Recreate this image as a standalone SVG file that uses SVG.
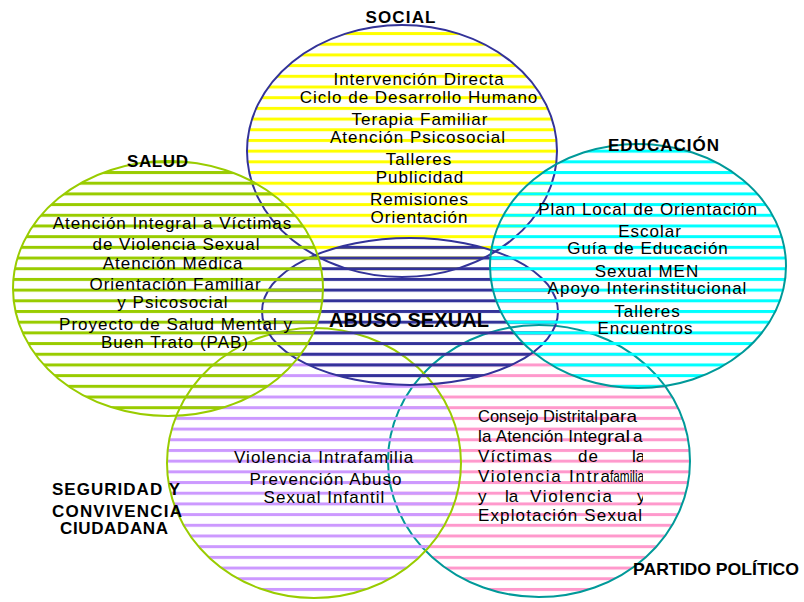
<svg xmlns="http://www.w3.org/2000/svg" width="804" height="602" viewBox="0 0 804 602">
<style>
.t{font-family:"Liberation Sans",Arial,sans-serif;font-size:17px;letter-spacing:1px;fill:#000;text-anchor:middle}
.p{font-family:"Liberation Sans",Arial,sans-serif;font-size:17px;fill:#000}
.b{font-family:"Liberation Sans",Arial,sans-serif;font-size:17px;font-weight:bold;fill:#000;text-anchor:middle}
.o{stroke-width:2}
</style>
<defs>
<pattern id="pY" patternUnits="userSpaceOnUse" width="20" height="10.69"><rect y="0" width="20" height="3" fill="#FFFF00"/></pattern>
<pattern id="pG" patternUnits="userSpaceOnUse" width="20" height="10.69"><rect y="0" width="20" height="3" fill="#99CC00"/></pattern>
<pattern id="pC" patternUnits="userSpaceOnUse" width="20" height="10.69"><rect y="0" width="20" height="3" fill="#00FFFF"/></pattern>
<pattern id="pN" patternUnits="userSpaceOnUse" width="20" height="10.69"><rect y="0" width="20" height="3" fill="#333399"/></pattern>
<pattern id="pL" patternUnits="userSpaceOnUse" width="20" height="10.69"><rect y="0" width="20" height="3" fill="#CC99FF"/></pattern>
<pattern id="pP" patternUnits="userSpaceOnUse" width="20" height="10.69"><rect y="0" width="20" height="3" fill="#FF99CC"/></pattern>
<clipPath id="clipP"><rect x="470" y="400" width="173" height="130"/></clipPath>
<clipPath id="clipS"><rect x="200" y="440" width="214" height="30"/></clipPath>
</defs>
<rect width="804" height="602" fill="#fff"/>

<g id="social">
<ellipse class="o" cx="402" cy="151" rx="155" ry="126" fill="url(#pY)" stroke="#333399"/>
<text class="b" x="400.5" y="23" textLength="70">SOCIAL</text>
<text class="t" x="419" y="85">Intervención Directa</text>
<text class="t" x="419" y="102.7">Ciclo de Desarrollo Humano</text>
<text class="t" x="420" y="125">Terapia Familiar</text>
<text class="t" x="418" y="142.7">Atención Psicosocial</text>
<text class="t" x="419" y="165">Talleres</text>
<text class="t" x="420" y="183">Publicidad</text>
<text class="t" x="419.5" y="205">Remisiones</text>
<text class="t" x="419.5" y="222.7">Orientación</text>
</g>

<g id="partido">
<ellipse class="o" cx="539" cy="461" rx="151" ry="136" fill="url(#pP)" stroke="#009999"/>
<g clip-path="url(#clipP)">
<text class="p" x="478" y="422" textLength="120" lengthAdjust="spacingAndGlyphs">Consejo Distrital</text>
<text class="p" x="599" y="422" textLength="38" lengthAdjust="spacingAndGlyphs">para</text>
<text class="p" x="478" y="441.5" textLength="129" lengthAdjust="spacing">la Atención Integ</text>
<text class="p" x="607" y="441.5" textLength="23" lengthAdjust="spacingAndGlyphs">ral</text>
<text class="p" x="633" y="441.5">a</text>
<text class="p" x="478" y="462" textLength="74" lengthAdjust="spacing">Víctimas</text>
<text class="p" x="578" y="462" textLength="20" lengthAdjust="spacing">de</text>
<text class="p" x="632" y="462">la</text>
<text class="p" x="478" y="481.5" textLength="132" lengthAdjust="spacing">Violencia Intra</text>
<text class="p" x="610" y="481.5" textLength="38" lengthAdjust="spacingAndGlyphs">familiar</text>
<text class="p" x="478" y="502">y</text>
<text class="p" x="505" y="502">la</text>
<text class="p" x="530" y="502" textLength="82" lengthAdjust="spacing">Violencia</text>
<text class="p" x="637" y="502">y</text>
<text class="p" x="478" y="521" textLength="164" lengthAdjust="spacing">Explotación Sexual</text>
</g>
<text class="b" x="716" y="575" textLength="166" lengthAdjust="spacingAndGlyphs">PARTIDO POLÍTICO</text>
</g>

<g id="seguridad">
<ellipse class="o" cx="314" cy="463" rx="147" ry="135" fill="url(#pL)" stroke="#99CC00"/>
<g clip-path="url(#clipS)">
<text class="p" x="234" y="463" textLength="186" lengthAdjust="spacing">Violencia Intrafamiliar</text>
</g>
<text class="t" x="326" y="485">Prevención Abuso</text>
<text class="t" x="324.5" y="503">Sexual Infantil</text>
<text class="b" x="116" y="495" textLength="128">SEGURIDAD Y</text>
<text class="b" x="117" y="516.5" textLength="130">CONVIVENCIA</text>
<text class="b" x="114" y="534" textLength="108">CIUDADANA</text>
</g>

<g id="abuso-sexual">
<ellipse class="o" cx="410" cy="311.5" rx="148" ry="73.5" fill="url(#pN)" stroke="#333399"/>
<text class="b" x="409" y="327" style="font-size:20px" textLength="160">ABUSO SEXUAL</text>
</g>

<g id="salud">
<ellipse class="o" cx="168" cy="288.5" rx="155" ry="127.5" fill="url(#pG)" stroke="#99CC00"/>
<text class="b" x="157.5" y="166.5" textLength="61">SALUD</text>
<text class="t" x="172.5" y="229">Atención Integral a Víctimas</text>
<text class="t" x="176.5" y="250">de Violencia Sexual</text>
<text class="t" x="173" y="269">Atención Médica</text>
<text class="t" x="175.5" y="290">Orientación Familiar</text>
<text class="t" x="173" y="308">y Psicosocial</text>
<text class="t" x="176" y="330">Proyecto de Salud Mental y</text>
<text class="t" x="175" y="348">Buen Trato (PAB)</text>
</g>

<g id="educacion">
<ellipse class="o" cx="638" cy="266" rx="148" ry="122" fill="url(#pC)" stroke="#009999"/>
<text class="b" x="663.5" y="150.5" textLength="111">EDUCACIÓN</text>
<text class="t" x="648" y="215">Plan Local de Orientación</text>
<text class="t" x="650" y="236.7">Escolar</text>
<text class="t" x="648" y="254">Guía de Educación</text>
<text class="t" x="647" y="276.7">Sexual MEN</text>
<text class="t" x="647.5" y="294">Apoyo Interinstitucional</text>
<text class="t" x="647.5" y="316.7">Talleres</text>
<text class="t" x="645.5" y="334">Encuentros</text>
</g>

<g id="connectors"></g>
</svg>
